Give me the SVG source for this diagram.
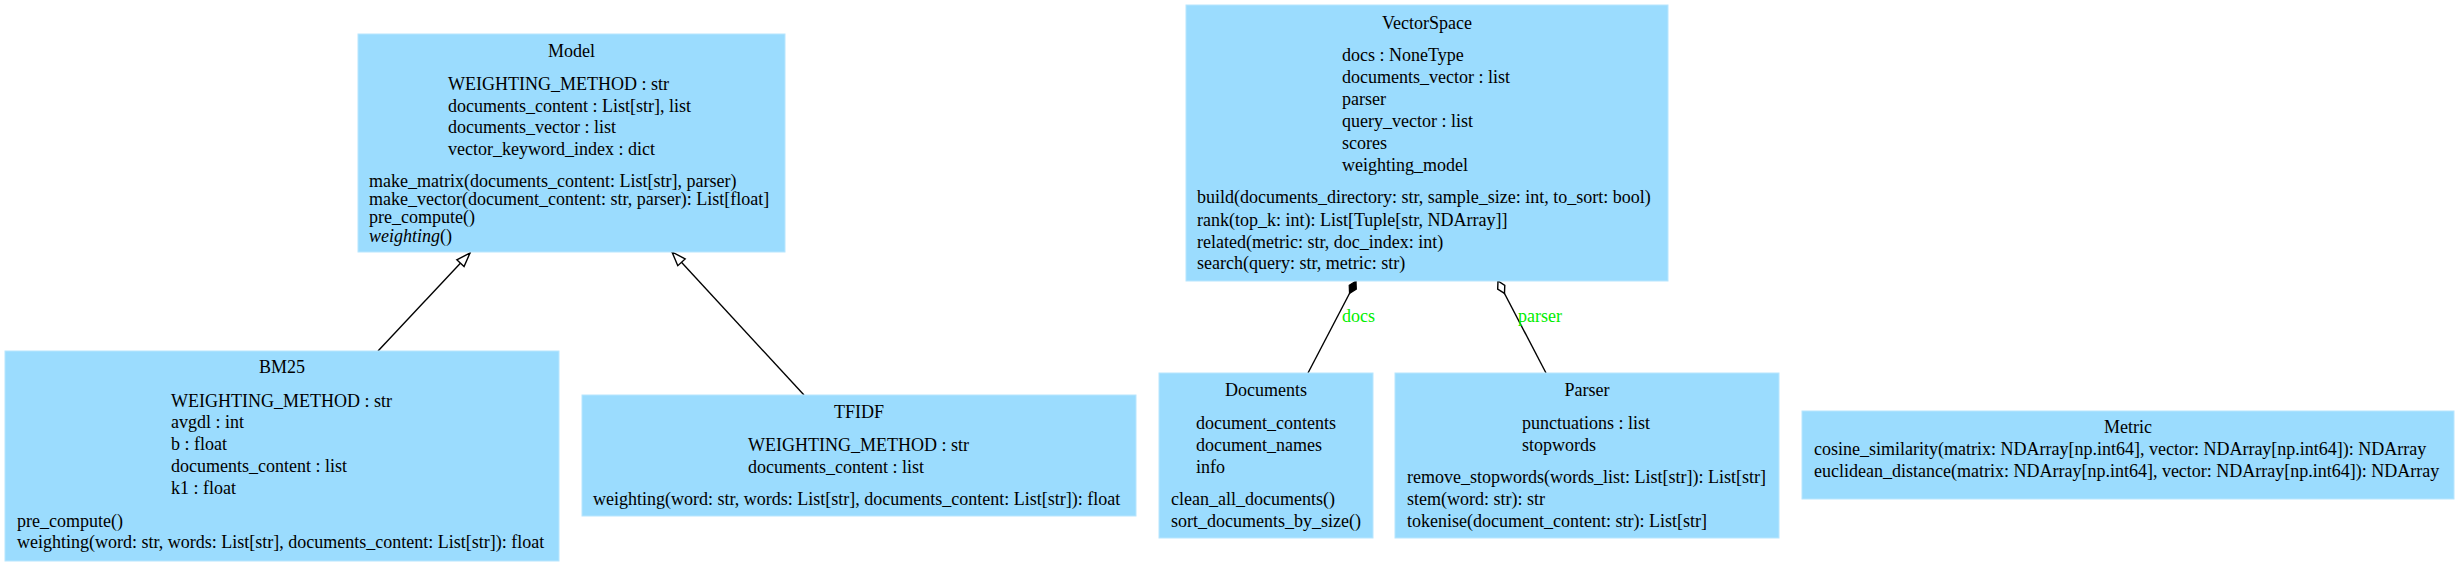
<svg xmlns="http://www.w3.org/2000/svg" width="2460" height="565" viewBox="0 0 2460 565">
<defs>
<style>
.box{fill:#9BDCFE;stroke:#B8E6FE;stroke-width:1}
text{font-family:"Liberation Serif","Times New Roman",serif;font-size:18px;fill:#000}
.t{text-anchor:middle}
.lbl{fill:#00EE00}
.edge{stroke:#000;stroke-width:1.4;fill:none}
</style>
<marker id="inherit" markerUnits="userSpaceOnUse" viewBox="0 0 16 12" refX="15" refY="6" markerWidth="16" markerHeight="12" orient="auto" overflow="visible">
<path d="M1,1 L15,6 L1,11 Z" fill="#fff" stroke="#000" stroke-width="1.4"/>
</marker>
<marker id="comp" markerUnits="userSpaceOnUse" viewBox="0 0 16 10" refX="15" refY="5" markerWidth="16" markerHeight="10" orient="auto" overflow="visible">
<path d="M1,5 L8,1 L15,5 L8,9 Z" fill="#000" stroke="#000" stroke-width="1.2"/>
</marker>
<marker id="aggr" markerUnits="userSpaceOnUse" viewBox="0 0 16 10" refX="15" refY="5" markerWidth="16" markerHeight="10" orient="auto" overflow="visible">
<path d="M1,5 L8,1 L15,5 L8,9 Z" fill="#fff" stroke="#000" stroke-width="1.4"/>
</marker>
</defs>
<rect width="2460" height="565" fill="#fff"/>

<g id="connectors">
<line class="edge" x1="378" y1="351" x2="470" y2="253" marker-end="url(#inherit)"/>
<line class="edge" x1="804" y1="395" x2="672" y2="252" marker-end="url(#inherit)"/>
<line class="edge" x1="1308" y1="373" x2="1356" y2="281" marker-end="url(#comp)"/>
<line class="edge" x1="1546" y1="373" x2="1498" y2="281" marker-end="url(#aggr)"/>
<text class="lbl" x="1342" y="322">docs</text>
<text class="lbl" x="1518" y="322">parser</text>
</g>

<g id="Model">
<rect class="box" x="358" y="34" width="427" height="218"/>
<text class="t" x="571.5" y="57">Model</text>
<text x="448" y="90">WEIGHTING_METHOD : str</text>
<text x="448" y="112">documents_content : List[str], list</text>
<text x="448" y="133">documents_vector : list</text>
<text x="448" y="155">vector_keyword_index : dict</text>
<text x="369" y="187">make_matrix(documents_content: List[str], parser)</text>
<text x="369" y="205">make_vector(document_content: str, parser): List[float]</text>
<text x="369" y="223">pre_compute()</text>
<text x="369" y="242"><tspan font-style="italic">weighting</tspan>()</text>
</g>

<g id="BM25">
<rect class="box" x="5" y="351" width="554" height="210"/>
<text class="t" x="282" y="373">BM25</text>
<text x="171" y="407">WEIGHTING_METHOD : str</text>
<text x="171" y="428">avgdl : int</text>
<text x="171" y="450">b : float</text>
<text x="171" y="472">documents_content : list</text>
<text x="171" y="494">k1 : float</text>
<text x="17" y="527">pre_compute()</text>
<text x="17" y="548">weighting(word: str, words: List[str], documents_content: List[str]): float</text>
</g>

<g id="TFIDF">
<rect class="box" x="582" y="395" width="554" height="121"/>
<text class="t" x="859" y="418">TFIDF</text>
<text x="748" y="451">WEIGHTING_METHOD : str</text>
<text x="748" y="473">documents_content : list</text>
<text x="593" y="505">weighting(word: str, words: List[str], documents_content: List[str]): float</text>
</g>

<g id="VectorSpace">
<rect class="box" x="1186" y="5" width="482" height="276"/>
<text class="t" x="1427" y="29">VectorSpace</text>
<text x="1342" y="61">docs : NoneType</text>
<text x="1342" y="83">documents_vector : list</text>
<text x="1342" y="105">parser</text>
<text x="1342" y="127">query_vector : list</text>
<text x="1342" y="149">scores</text>
<text x="1342" y="171">weighting_model</text>
<text x="1197" y="203">build(documents_directory: str, sample_size: int, to_sort: bool)</text>
<text x="1197" y="226">rank(top_k: int): List[Tuple[str, NDArray]]</text>
<text x="1197" y="248">related(metric: str, doc_index: int)</text>
<text x="1197" y="269">search(query: str, metric: str)</text>
</g>

<g id="Documents">
<rect class="box" x="1159" y="373" width="214" height="165"/>
<text class="t" x="1266" y="396">Documents</text>
<text x="1196" y="429">document_contents</text>
<text x="1196" y="451">document_names</text>
<text x="1196" y="473">info</text>
<text x="1171" y="505">clean_all_documents()</text>
<text x="1171" y="527">sort_documents_by_size()</text>
</g>

<g id="Parser">
<rect class="box" x="1395" y="373" width="384" height="165"/>
<text class="t" x="1587" y="396">Parser</text>
<text x="1522" y="429">punctuations : list</text>
<text x="1522" y="451">stopwords</text>
<text x="1407" y="483">remove_stopwords(words_list: List[str]): List[str]</text>
<text x="1407" y="505">stem(word: str): str</text>
<text x="1407" y="527">tokenise(document_content: str): List[str]</text>
</g>

<g id="Metric">
<rect class="box" x="1802" y="411" width="652" height="88"/>
<text class="t" x="2128" y="433">Metric</text>
<text x="1814" y="455">cosine_similarity(matrix: NDArray[np.int64], vector: NDArray[np.int64]): NDArray</text>
<text x="1814" y="477">euclidean_distance(matrix: NDArray[np.int64], vector: NDArray[np.int64]): NDArray</text>
</g>
</svg>
